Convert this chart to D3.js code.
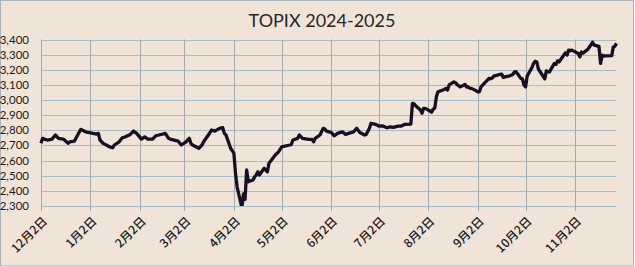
<!DOCTYPE html>
<html>
<head>
<meta charset="utf-8">
<script src="https://cdn.jsdelivr.net/npm/d3@7"></script>
<style>
  html, body { margin: 0; padding: 0; background: #fff; }
  svg { display: block; }
</style>
</head>
<body>
<script>
// TOPIX daily closes
const dates = [
  '2024-12-02','2024-12-03','2024-12-04','2024-12-06','2024-12-09','2024-12-11','2024-12-13','2024-12-16',
  '2024-12-19','2024-12-20','2024-12-23','2024-12-25','2024-12-27','2024-12-30','2025-01-06','2025-01-07',
  '2025-01-08','2025-01-10','2025-01-14','2025-01-16','2025-01-17','2025-01-20','2025-01-22','2025-01-24',
  '2025-01-27','2025-01-29','2025-01-31','2025-02-03','2025-02-05','2025-02-07','2025-02-10','2025-02-12',
  '2025-02-14','2025-02-18','2025-02-20','2025-02-21','2025-02-26','2025-02-28','2025-03-03','2025-03-04',
  '2025-03-05','2025-03-06','2025-03-07','2025-03-11','2025-03-13','2025-03-14','2025-03-17','2025-03-19',
  '2025-03-21','2025-03-24','2025-03-26','2025-03-27','2025-03-28','2025-03-31','2025-04-01','2025-04-02',
  '2025-04-03','2025-04-04','2025-04-07','2025-04-08','2025-04-09','2025-04-10','2025-04-11','2025-04-14',
  '2025-04-15','2025-04-16','2025-04-17','2025-04-18','2025-04-21','2025-04-23','2025-04-24','2025-04-28',
  '2025-04-30','2025-05-02','2025-05-07','2025-05-08','2025-05-09','2025-05-12','2025-05-13','2025-05-15',
  '2025-05-19','2025-05-21','2025-05-22','2025-05-23','2025-05-26','2025-05-28','2025-05-29','2025-05-30',
  '2025-06-02','2025-06-04','2025-06-06','2025-06-09','2025-06-11','2025-06-13','2025-06-16','2025-06-18',
  '2025-06-20','2025-06-23','2025-06-24','2025-06-26','2025-06-27','2025-06-30','2025-07-02','2025-07-04',
  '2025-07-07','2025-07-09','2025-07-11','2025-07-14','2025-07-16','2025-07-18','2025-07-22','2025-07-23',
  '2025-07-24','2025-07-25','2025-07-28','2025-07-29','2025-07-30','2025-07-31','2025-08-01','2025-08-04',
  '2025-08-05','2025-08-06','2025-08-07','2025-08-08','2025-08-12','2025-08-13','2025-08-14','2025-08-15',
  '2025-08-18','2025-08-19','2025-08-20','2025-08-21','2025-08-22','2025-08-25','2025-08-26','2025-08-27',
  '2025-08-28','2025-08-29','2025-09-01','2025-09-02','2025-09-03','2025-09-04','2025-09-05','2025-09-08',
  '2025-09-09','2025-09-10','2025-09-11','2025-09-12','2025-09-16','2025-09-17','2025-09-18','2025-09-19',
  '2025-09-22','2025-09-24','2025-09-25','2025-09-26','2025-09-29','2025-09-30','2025-10-01','2025-10-02',
  '2025-10-03','2025-10-06','2025-10-07','2025-10-08','2025-10-09','2025-10-10','2025-10-14','2025-10-15',
  '2025-10-16','2025-10-17','2025-10-20','2025-10-21','2025-10-22','2025-10-23','2025-10-24','2025-10-27',
  '2025-10-28','2025-10-29','2025-10-30','2025-10-31','2025-11-04','2025-11-05','2025-11-06','2025-11-07',
  '2025-11-10','2025-11-11','2025-11-12','2025-11-13','2025-11-14','2025-11-17','2025-11-18','2025-11-19',
  '2025-11-20','2025-11-21','2025-11-25','2025-11-26','2025-11-27','2025-11-28'
]
const closes = [
  2714,2747,2742,2736,2742,2769,2747,2742,
  2714,2724,2729,2769,2806,2790,2775,2780,
  2736,2714,2691,2685,2703,2724,2751,2757,
  2773,2795,2780,2742,2757,2742,2742,2764,
  2769,2780,2747,2742,2729,2703,2724,2736,
  2747,2714,2703,2681,2703,2724,2769,2802,
  2795,2813,2817,2780,2770,2680,2665,2648,
  2516,2427,2289,2380,2344,2538,2460,2472,
  2493,2505,2526,2505,2549,2526,2582,2637,
  2658,2691,2703,2706,2736,2747,2769,2747,
  2740,2740,2724,2747,2769,2813,2808,2795,
  2786,2764,2780,2790,2773,2780,2790,2813,
  2786,2769,2773,2813,2846,2839,2828,2830,
  2817,2823,2819,2828,2828,2839,2841,2978,
  2975,2962,2934,2912,2945,2945,2940,2920,
  2940,2947,3021,3054,3070,3077,3066,3100,
  3120,3115,3102,3095,3087,3103,3085,3087,
  3077,3077,3061,3054,3054,3087,3099,3132,
  3143,3140,3145,3158,3169,3171,3149,3153,
  3160,3169,3186,3187,3143,3140,3099,3087,
  3160,3215,3242,3257,3252,3205,3140,3193,
  3186,3186,3242,3235,3259,3252,3268,3312,
  3297,3330,3325,3330,3308,3285,3317,3310,
  3335,3350,3365,3382,3363,3355,3242,3297,
  3290,3292,3293,3351,3356,3374
]
const tickDates = ['2024-12-02','2025-01-02','2025-02-02','2025-03-02','2025-04-02','2025-05-02',
  '2025-06-02','2025-07-02','2025-08-02','2025-09-02','2025-10-02','2025-11-02']
const tickLabels = ['12月2日','1月2日','2月2日','3月2日','4月2日','5月2日',
  '6月2日','7月2日','8月2日','9月2日','10月2日','11月2日']
const yTicks = [2300,2400,2500,2600,2700,2800,2900,3000,3100,3200,3300,3400]
const title = 'TOPIX 2024-2025'

const W = 635, H = 267
const plotLeft = 41, plotRight = 616.5, plotTop = 39.5, plotBottom = 206

const parse = d3.timeParse('%Y-%m-%d')
const series = dates.map((d, i) => ({ date: parse(d), value: closes[i] }))

const x = d3.scaleTime()
  .domain([parse('2024-12-02'), parse('2025-11-28')])
  .range([plotLeft, plotRight])
const y = d3.scaleLinear()
  .domain([2300, 3400])
  .range([plotBottom, plotTop])

const svg = d3.select('body').append('svg')
  .attr('width', W)
  .attr('height', H)

svg.append('rect')
  .attr('x', 0.5).attr('y', 0.5)
  .attr('width', W - 2).attr('height', H - 1.5)
  .attr('fill', '#efe4d7')
  .attr('stroke', '#a9b4bc')

svg.append('text')
  .text(title)
  .attr('x', 322)
  .attr('y', 27)
  .attr('text-anchor', 'middle')
  .style('font-family', 'Lato, "Open Sans", sans-serif')
  .style('font-size', '18px')
  .style('fill', '#262626')

// horizontal grid
svg.append('g')
  .selectAll('line')
  .data(yTicks)
  .join('line')
  .attr('x1', plotLeft).attr('x2', plotRight)
  .attr('y1', d => Math.round(y(d)) + 0.5)
  .attr('y2', d => Math.round(y(d)) + 0.5)
  .attr('stroke', '#a8bcc7')
  .attr('stroke-width', 1)

// vertical grid + tick marks
svg.append('g')
  .selectAll('line')
  .data(tickDates)
  .join('line')
  .attr('x1', d => Math.round(x(parse(d))) + 0.5)
  .attr('x2', d => Math.round(x(parse(d))) + 0.5)
  .attr('y1', plotTop)
  .attr('y2', plotBottom + 5)
  .attr('stroke', '#a3aaab')
  .attr('stroke-width', 1)

// y labels
svg.append('g')
  .selectAll('text')
  .data(yTicks)
  .join('text')
  .text(d3.format(','))
  .attr('x', 29)
  .attr('y', d => y(d))
  .attr('dy', '0.35em')
  .attr('text-anchor', 'end')
  .style('font-family', 'Lato, "Open Sans", sans-serif')
  .style('font-size', '11.5px')
  .style('fill', '#1a1a1a')

// x labels, rotated
svg.append('g')
  .selectAll('text')
  .data(tickDates)
  .join('text')
  .text((d, i) => tickLabels[i])
  .attr('transform', d => `translate(${x(parse(d)) + 4},${plotBottom + 13}) rotate(-45)`)
  .attr('text-anchor', 'end')
  .attr('dy', '0.35em')
  .style('font-family', '"Noto Sans CJK JP", sans-serif')
  .style('font-size', '12px')
  .style('font-weight', '500')
  .style('fill', '#1a1a1a')

svg.append('clipPath')
  .attr('id', 'plotclip')
  .append('rect')
  .attr('x', 0).attr('y', 0)
  .attr('width', W).attr('height', plotBottom)

const line = d3.line()
  .x(d => x(d.date))
  .y(d => y(d.value))

svg.append('path')
  .datum(series)
  .attr('clip-path', 'url(#plotclip)')
  .attr('d', line)
  .attr('fill', 'none')
  .attr('stroke', '#170f22')
  .attr('stroke-width', 3.3)
  .attr('stroke-linejoin', 'round')
</script>
</body>
</html>
